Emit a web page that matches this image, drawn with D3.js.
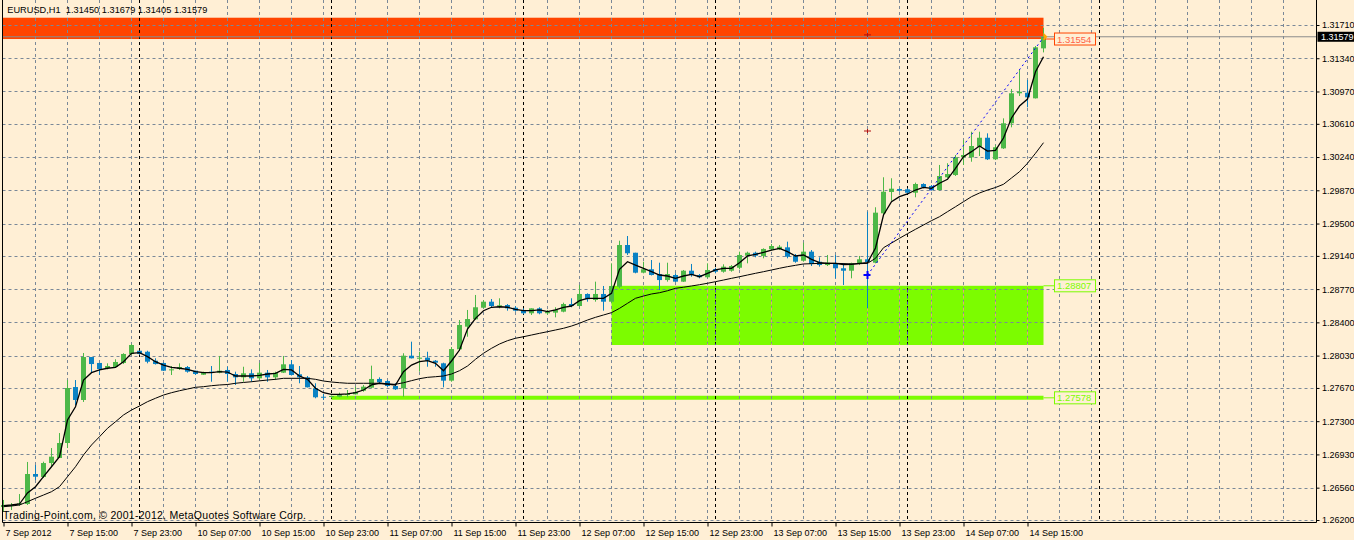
<!DOCTYPE html>
<html><head><meta charset="utf-8">
<script src="https://cdn.jsdelivr.net/npm/d3@7"></script>
<style>body{margin:0;background:#FFEFD5;}svg{display:block;font-family:"Liberation Sans",Arial,sans-serif;}</style>
</head><body><svg id="c" width="1354" height="540"></svg>
<script>
const titleText = "EURUSD,H1  1.31450 1.31679 1.31405 1.31579";
const copyrightText = "Trading-Point.com, \u00a9 2001-2012, MetaQuotes Software Corp.";
const timeLabels = ["7 Sep 2012","7 Sep 15:00","7 Sep 23:00","10 Sep 07:00","10 Sep 15:00","10 Sep 23:00","11 Sep 07:00","11 Sep 15:00","11 Sep 23:00","12 Sep 07:00","12 Sep 15:00","12 Sep 23:00","13 Sep 07:00","13 Sep 15:00","13 Sep 23:00","14 Sep 07:00","14 Sep 15:00"];
const priceTicks = [1.31710,1.31340,1.30970,1.30610,1.30240,1.29870,1.29500,1.29140,1.28770,1.28400,1.28030,1.27670,1.27300,1.26930,1.26560,1.26200];
const daySeparators = [17,41,65,89,113,137];

const opens = [1.26345,1.26361,1.26375,1.26378,1.26712,1.26679,1.26834,1.2689,1.27057,1.2768,
1.27536,1.28014,1.27948,1.27892,1.27903,1.27948,1.28048,1.28084,1.28073,1.27973,
1.27948,1.2787,1.27881,1.27903,1.27862,1.27817,1.27851,1.2784,1.2787,1.27825,
1.27788,1.27833,1.27777,1.2784,1.27788,1.2784,1.27933,1.27822,1.27788,1.27666,
1.27572,1.27569,1.27572,1.27595,1.27599,1.27639,1.27673,1.2777,1.27747,1.27692,
1.27666,1.28029,1.27995,1.28007,1.27973,1.27944,1.27751,1.281,1.28352,1.28434,
1.28563,1.2863,1.28574,1.28593,1.28563,1.28538,1.28501,1.28556,1.28501,1.28508,
1.28519,1.28604,1.28582,1.28716,1.28649,1.28716,1.2863,1.28797,1.29261,1.29175,
1.28953,1.28991,1.28938,1.28871,1.28927,1.28853,1.28975,1.28927,1.28902,1.28994,
1.28964,1.28975,1.29008,1.29142,1.29175,1.29139,1.29213,1.29213,1.29235,1.29139,
1.29086,1.29187,1.29075,1.29038,1.29057,1.29002,1.28975,1.29057,1.29102,1.29064,
1.29614,1.29851,1.29884,1.29881,1.29843,1.2994,1.29918,1.29873,1.30015,1.3004,
1.30237,1.30237,1.30355,1.30455,1.30215,1.30337,1.30616,1.3095,1.30956,1.30894,
1.3145];
const highs = [1.26423,1.26389,1.26489,1.26846,1.26812,1.26849,1.27001,1.27168,1.27758,1.27758,
1.28059,1.28014,1.27948,1.27944,1.27989,1.28056,1.28159,1.28084,1.28084,1.28,
1.27951,1.27914,1.27944,1.27914,1.27862,1.27851,1.27914,1.28026,1.27906,1.27851,
1.27906,1.27877,1.27948,1.2787,1.27851,1.28026,1.27981,1.27914,1.27803,1.27722,
1.27603,1.27586,1.27617,1.27647,1.27684,1.27703,1.27918,1.27788,1.27758,1.27722,
1.28056,1.28185,1.28073,1.28073,1.27981,1.27951,1.28126,1.28426,1.28538,1.28705,
1.28649,1.2866,1.28668,1.28604,1.28582,1.28556,1.28556,1.28568,1.28538,1.28568,
1.28619,1.28668,1.28816,1.28723,1.28853,1.28805,1.29057,1.29309,1.29361,1.29175,
1.29075,1.29094,1.29064,1.29064,1.28946,1.28983,1.2905,1.28938,1.29057,1.29008,
1.29046,1.29038,1.29187,1.29187,1.29187,1.29224,1.29272,1.29261,1.29298,1.29161,
1.29287,1.29205,1.29124,1.2915,1.2915,1.29061,1.29064,1.29139,1.29632,1.29681,
1.30015,1.30004,1.29892,1.29892,1.29955,1.29948,1.29929,1.30152,1.30171,1.30263,
1.3043,1.30522,1.30522,1.30504,1.30374,1.30671,1.30998,1.31209,1.31098,1.31476,
1.31679];
const lows = [1.26289,1.26311,1.26356,1.26367,1.26645,1.26668,1.2679,1.2689,1.27001,1.2748,
1.27514,1.27836,1.27814,1.27877,1.27897,1.27936,1.28037,1.28037,1.27944,1.2793,
1.27859,1.27814,1.2787,1.2784,1.27814,1.27814,1.27739,1.27833,1.27739,1.27703,
1.27739,1.27739,1.27758,1.27739,1.27758,1.27836,1.27808,1.27722,1.27675,1.27555,
1.27536,1.27555,1.27566,1.27566,1.27597,1.27628,1.27666,1.27722,1.27677,1.27647,
1.27572,1.27998,1.27851,1.27906,1.27906,1.27677,1.27739,1.28081,1.2824,1.28426,
1.28556,1.28568,1.28556,1.2853,1.28519,1.2849,1.28482,1.2849,1.28482,1.28456,
1.28512,1.28568,1.28577,1.2863,1.2863,1.2853,1.28612,1.28779,1.2915,1.28946,
1.28946,1.28922,1.2876,1.28853,1.2885,1.2885,1.28908,1.2889,1.2889,1.28946,
1.28953,1.28964,1.28991,1.29057,1.29124,1.29113,1.29198,1.29205,1.29113,1.29064,
1.29075,1.29027,1.2902,1.29027,1.2889,1.28816,1.2889,1.29038,1.28556,1.29057,
1.29595,1.29754,1.29854,1.29829,1.29792,1.29892,1.29866,1.29866,1.30004,1.30029,
1.30152,1.30188,1.30252,1.30207,1.30207,1.3033,1.30571,1.3092,1.30794,1.30892,
1.31405];
const closes = [1.26367,1.26367,1.26386,1.26712,1.26682,1.26834,1.26905,1.27057,1.27669,1.27536,
1.28014,1.27936,1.27881,1.27914,1.27959,1.28048,1.28148,1.28048,1.27962,1.27936,
1.27862,1.27877,1.27903,1.27851,1.27825,1.2784,1.2784,1.27862,1.27825,1.27788,
1.27833,1.27777,1.2784,1.27788,1.2784,1.27933,1.27814,1.27788,1.27677,1.27566,
1.27561,1.2758,1.27599,1.27603,1.27625,1.27684,1.2777,1.27733,1.27692,1.27655,
1.28029,1.28,1.28007,1.27973,1.27951,1.27751,1.28103,1.28371,1.28437,1.28568,
1.2863,1.28582,1.2859,1.28556,1.2853,1.28501,1.28556,1.28501,1.28519,1.28538,
1.28604,1.28582,1.28716,1.28657,1.28716,1.2863,1.28805,1.29261,1.29169,1.28953,
1.28991,1.28927,1.28871,1.28938,1.28853,1.28975,1.28927,1.28902,1.28983,1.28964,
1.2902,1.29027,1.2915,1.29175,1.29142,1.29217,1.2925,1.29242,1.29131,1.29075,
1.29187,1.2905,1.29038,1.29064,1.29002,1.28975,1.29057,1.29102,1.29072,1.29621,
1.29854,1.29888,1.29866,1.29843,1.2994,1.29903,1.29873,1.30029,1.30051,1.30237,
1.30263,1.30363,1.30455,1.30215,1.30349,1.30616,1.3095,1.30967,1.30905,1.31462,
1.31579];
const maFast = [1.26359,1.26367,1.26378,1.26501,1.26571,1.26682,1.26793,1.26905,1.27313,1.27461,
1.27758,1.2784,1.2787,1.27889,1.279,1.27962,1.28056,1.28062,1.28018,1.27962,
1.27925,1.279,1.27889,1.27877,1.27851,1.2784,1.2784,1.27851,1.27847,1.27803,
1.27803,1.27803,1.27811,1.27825,1.27833,1.27877,1.2787,1.27803,1.27766,1.27666,
1.27617,1.27599,1.27599,1.27603,1.27617,1.27647,1.27703,1.27722,1.27714,1.27703,
1.27851,1.27925,1.27962,1.27973,1.27944,1.27862,1.2797,1.28092,1.28326,1.28445,
1.2853,1.28568,1.28574,1.28568,1.28545,1.2853,1.2853,1.28538,1.28519,1.28538,
1.28568,1.28582,1.28641,1.28668,1.28668,1.28668,1.28723,1.28991,1.29075,1.29038,
1.29002,1.28964,1.28927,1.28916,1.2889,1.28916,1.28935,1.28908,1.28946,1.28983,
1.29002,1.29002,1.29064,1.29139,1.29158,1.2918,1.29205,1.29224,1.29187,1.29139,
1.2915,1.29102,1.29064,1.29057,1.29057,1.29044,1.29046,1.29057,1.29064,1.29228,
1.29595,1.29743,1.29799,1.29829,1.29873,1.29903,1.29892,1.29948,1.29992,1.30115,
1.30244,1.303,1.30363,1.30307,1.30315,1.30452,1.30675,1.30808,1.30886,1.3119,
1.31357];
const maSlow = [1.26348,1.26356,1.26367,1.26404,1.26442,1.26478,1.26515,1.26571,1.26682,1.26793,
1.26924,1.27035,1.27127,1.27221,1.27294,1.27369,1.27424,1.27469,1.27517,1.27555,
1.27591,1.27617,1.27639,1.27658,1.27677,1.27684,1.27695,1.27703,1.27708,1.27722,
1.27731,1.27739,1.27749,1.27758,1.27766,1.27777,1.27777,1.27777,1.27777,1.27766,
1.27747,1.27736,1.27728,1.27722,1.27722,1.27722,1.27722,1.27722,1.27711,1.27711,
1.27728,1.27751,1.27773,1.27788,1.27795,1.27803,1.27825,1.27862,1.27914,1.27989,
1.28056,1.28111,1.28159,1.28196,1.28223,1.2824,1.28259,1.28278,1.28296,1.28315,
1.28334,1.28359,1.2839,1.28426,1.28456,1.28482,1.28508,1.28556,1.28612,1.28668,
1.28693,1.28716,1.2873,1.28752,1.28779,1.28791,1.28805,1.28819,1.28835,1.28853,
1.28871,1.2889,1.28908,1.28927,1.28946,1.28964,1.28983,1.29002,1.2902,1.29035,
1.2905,1.29053,1.29057,1.29057,1.29057,1.29054,1.2905,1.29053,1.29057,1.29113,
1.29231,1.29283,1.29336,1.29387,1.29436,1.29484,1.29532,1.29576,1.29632,1.29687,
1.29743,1.29799,1.2984,1.29873,1.29901,1.29937,1.30007,1.30077,1.30171,1.30282,
1.304];

// objects on chart
const resistZone = {top:1.31791, bottom:1.31554, from:-1, to:130, label:"1.31554"};
const demandZone = {top:1.28807, bottom:1.28148, from:76, to:130, label:"1.28807"};
const supportLine = {price:1.27560, from:41, to:130, label:"1.27578"};
const trendLine = {i0:108, p0:1.28927, i1:130, p1:1.31573};
const markers = [{i:108, p:1.31600}, {i:108, p:1.30530}];

const W=1354,H=540;
const svg=d3.select("#c");
const x=d3.scaleLinear().domain([0,130]).range([3.5,1043.5]);
const y=d3.scaleLinear().domain([1.26200,1.31710]).range([520,25]);
const L=2.5,R=1316.5,B=522.5;
const bg="#FFEFD5", grid="#7A8898", bull="#4DB848", bear="#0A82C4";

svg.append("rect").attr("width",W).attr("height",H).attr("fill",bg);

// zones (background objects)
svg.append("rect").attr("x",L).attr("y",y(resistZone.top)).attr("width",x(resistZone.to)-L)
  .attr("height",y(resistZone.bottom)-y(resistZone.top)).attr("fill","#FF4500");
const zx0=x(demandZone.from), zx1=x(demandZone.to), zy0=y(demandZone.top), zy1=y(demandZone.bottom);
svg.append("rect").attr("x",zx0).attr("y",zy0).attr("width",zx1-zx0).attr("height",zy1-zy0).attr("fill","#7CFC00");
svg.append("line").attr("x1",x(supportLine.from)).attr("x2",x(supportLine.to))
  .attr("y1",y(supportLine.price)).attr("y2",y(supportLine.price)).attr("stroke","#7CFC00").attr("stroke-width",4);

// grid
const g=svg.append("g");
g.selectAll("line.h").data(priceTicks).join("line")
  .attr("x1",L).attr("x2",R).attr("y1",d=>Math.round(y(d))+0.5).attr("y2",d=>Math.round(y(d))+0.5)
  .attr("stroke",grid).attr("stroke-dasharray","3,3");
const vgrid=d3.range(4,161,4);
g.selectAll("line.v").data(vgrid).join("line")
  .attr("x1",d=>x(d)).attr("x2",d=>x(d)).attr("y1",0).attr("y2",B)
  .attr("stroke",grid).attr("stroke-dasharray","3,3");
g.selectAll("line.s").data(daySeparators).join("line")
  .attr("x1",d=>x(d)).attr("x2",d=>x(d)).attr("y1",0).attr("y2",B)
  .attr("stroke","#000").attr("stroke-dasharray","3,3");
// grid seen through the green zone (inverted tints)
g.selectAll("line.vz").data(vgrid.filter(d=>x(d)>zx0&&x(d)<zx1)).join("line")
  .attr("x1",d=>x(d)).attr("x2",d=>x(d)).attr("y1",zy0).attr("y2",zy1)
  .attr("stroke","#E2A878").attr("stroke-dasharray","3,3").attr("stroke-dashoffset",-zy0);
g.selectAll("line.sz").data(daySeparators.filter(d=>x(d)>zx0&&x(d)<zx1)).join("line")
  .attr("x1",d=>x(d)).attr("x2",d=>x(d)).attr("y1",zy0).attr("y2",zy1)
  .attr("stroke","#5A3CC8").attr("stroke-dasharray","3,3").attr("stroke-dashoffset",-zy0);

// bid line
svg.append("line").attr("x1",L).attr("x2",R).attr("y1",y(closes[130])).attr("y2",y(closes[130]))
  .attr("stroke","#8C8C8C");

// candles
const idx=d3.range(opens.length);
const cg=svg.append("g");
idx.forEach(i=>{
  const up=closes[i]>=opens[i]; const col=up?bull:bear;
  const cx=x(i);
  cg.append("line").attr("x1",cx).attr("x2",cx).attr("y1",y(highs[i])).attr("y2",y(lows[i])).attr("stroke",col);
  const t=y(Math.max(opens[i],closes[i])), b=y(Math.min(opens[i],closes[i]));
  cg.append("rect").attr("x",cx-2.5).attr("y",t).attr("width",5).attr("height",Math.max(1,b-t)).attr("fill",col);
});

// moving averages
const line=d3.line().x((d,i)=>x(i)).y(d=>y(d));
svg.append("path").attr("d",line(maSlow)).attr("fill","none").attr("stroke","#000").attr("stroke-width",1);
svg.append("path").attr("d",line(maFast)).attr("fill","none").attr("stroke","#000").attr("stroke-width",1.3);

// trend line
svg.append("line").attr("x1",x(trendLine.i0)).attr("y1",y(trendLine.p0)).attr("x2",x(trendLine.i1)).attr("y2",y(trendLine.p1))
  .attr("stroke","#0000FF").attr("stroke-dasharray","2,3");
svg.append("path").attr("d",`M${x(trendLine.i0)-4},${y(trendLine.p0)}h7M${x(trendLine.i0)},${y(trendLine.p0)-4}v8`)
  .attr("stroke","#0000FF").attr("stroke-width",2);
// small markers
markers.forEach(m=>{
  svg.append("path").attr("d",`M${x(m.i)-3.5},${y(m.p)}h7M${x(m.i)},${y(m.p)-2}v4`).attr("stroke","#B01010").attr("stroke-width",1);
});

// price labels of objects
function priceLabel(p,txt,stroke,fill){
  const yy=y(p);
  svg.append("line").attr("x1",x(130)).attr("x2",1054.5).attr("y1",yy).attr("y2",yy).attr("stroke",stroke);
  svg.append("rect").attr("x",1054.5).attr("y",yy-6).attr("width",41).attr("height",12).attr("fill",bg).attr("stroke",stroke);
  svg.append("text").attr("x",1057).attr("y",yy+3.5).attr("font-size",9.5).attr("fill",fill).text(txt);
}
priceLabel(resistZone.bottom,resistZone.label,"#FF4500","#FF6347");
priceLabel(demandZone.top,demandZone.label,"#7CFC00","#7CFC00");
priceLabel(supportLine.price,supportLine.label,"#7CFC00","#7CFC00");
svg.append("path").attr("d",`M${x(130)},${y(closes[130])-4}l4,4l-4,4z`).attr("fill","#FFA500");

// frame
svg.append("path").attr("d",`M${L},0V${B}H${R}V0`).attr("fill","none").attr("stroke","#000");

// axes
const xa=svg.append("g").attr("transform",`translate(0,${B})`)
  .call(d3.axisBottom(x).tickValues(d3.range(0,129,8)).tickFormat((d,i)=>timeLabels[i]).tickSize(4).tickSizeOuter(0));
xa.select(".domain").remove();
xa.selectAll("text").attr("text-anchor","start").attr("dx",1.5).attr("y",13.5).attr("dy",0).attr("font-size",9).attr("fill","#000").attr("font-family","Liberation Sans, Arial");
const ya=svg.append("g").attr("transform",`translate(${R},0)`)
  .call(d3.axisRight(y).tickValues(priceTicks).tickFormat(d=>d.toFixed(5)).tickSize(3).tickSizeOuter(0));
ya.select(".domain").remove();
ya.selectAll("text").attr("x",5.5).attr("font-size",9).attr("fill","#000").attr("font-family","Liberation Sans, Arial");

// bid label
svg.append("rect").attr("x",1317.5).attr("y",y(closes[130])-5).attr("width",37).attr("height",10).attr("fill","#000");
svg.append("text").attr("x",1321).attr("y",y(closes[130])+3.3).attr("font-size",9).attr("fill","#fff").text(closes[130].toFixed(5));

// texts
svg.append("text").attr("x",7.3).attr("y",13.3).attr("font-size",9.2).attr("textLength",200).style("white-space","pre").attr("fill","#000").text(titleText);
svg.append("text").attr("x",3).attr("y",518.5).attr("font-size",10.5).attr("textLength",303).attr("fill","#000").text(copyrightText);
</script></body></html>
